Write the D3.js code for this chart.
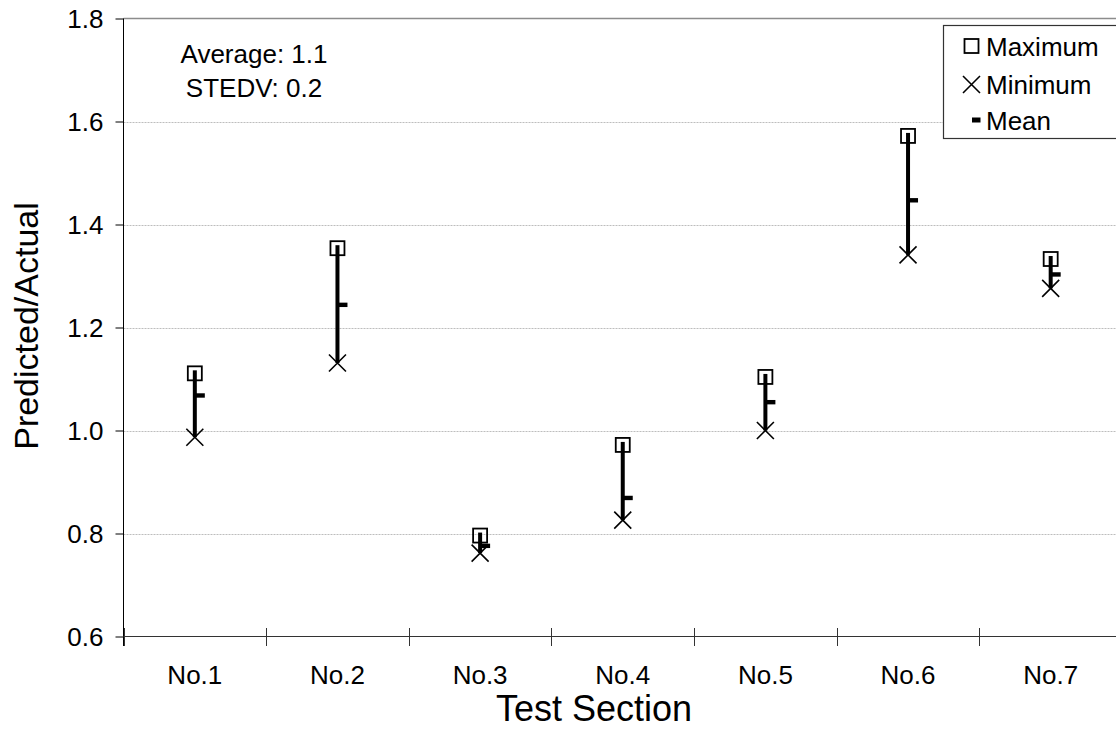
<!DOCTYPE html>
<html>
<head>
<meta charset="utf-8">
<script src="https://cdn.jsdelivr.net/npm/d3@7"></script>
<style>
  html, body { margin: 0; padding: 0; background: #fff; }
  svg { display: block; font-family: "Liberation Sans", Arial, sans-serif; }
</style>
</head>
<body>
<svg id="chart" width="1116" height="744"></svg>
<script>
const categories = ["No.1", "No.2", "No.3", "No.4", "No.5", "No.6", "No.7"];
const maxValues  = [1.111, 1.354, 0.796, 0.972, 1.104, 1.572, 1.333];
const minValues  = [0.987, 1.131, 0.762, 0.826, 1.000, 1.341, 1.276];
const meanValues = [1.068, 1.244, 0.776, 0.869, 1.055, 1.447, 1.303];
const yTicks = [0.6, 0.8, 1.0, 1.2, 1.4, 1.6, 1.8];
const legendLabels = ["Maximum", "Minimum", "Mean"];
const annotation = ["Average: 1.1", "STEDV: 0.2"];
const xTitle = "Test Section";
const yTitle = "Predicted/Actual";

(function () {
const data = categories.map((c, i) => ({ c, max: maxValues[i], min: minValues[i], mean: meanValues[i] }));

const svg = d3.select("#chart");
const pLeft = 123.5, pRight = 1122, pTop = 18.5, pBottom = 636.5;

const x = d3.scaleBand().domain(categories).range([pLeft, pRight]).padding(0);
const y = d3.scaleLinear().domain([0.6, 1.8]).range([pBottom, pTop]);
const cx = d => x(d.c) + x.bandwidth() / 2;

// gridlines
svg.append("g").selectAll("line").data(yTicks.filter(t => t > 0.6 && t < 1.8)).join("line")
  .attr("x1", pLeft).attr("x2", pRight)
  .attr("y1", d => Math.round(y(d)) + 0.5).attr("y2", d => Math.round(y(d)) + 0.5)
  .attr("stroke", "#bdbdbd").attr("stroke-width", 1).attr("stroke-dasharray", "2,1");
svg.append("line").attr("x1", pLeft).attr("x2", pRight)
  .attr("y1", pTop).attr("y2", pTop).attr("stroke", "#8c8c8c").attr("stroke-width", 1.3);

// y axis
const yAxis = d3.axisLeft(y).tickValues(yTicks).tickFormat(d3.format(".1f")).tickSize(8).tickPadding(12);
const gy = svg.append("g").attr("transform", `translate(${pLeft},0)`).call(yAxis);
gy.select(".domain").remove();
gy.selectAll(".tick line").attr("stroke", "#000");
gy.selectAll(".tick text").attr("font-size", 26).attr("fill", "#000")
  .attr("font-family", "'Liberation Sans', Arial, sans-serif").attr("dy", "0.36em");
svg.append("line").attr("x1", pLeft).attr("x2", pLeft).attr("y1", pTop).attr("y2", 646).attr("stroke", "#000");

// x axis
svg.append("line").attr("x1", pLeft).attr("x2", pRight).attr("y1", pBottom).attr("y2", pBottom).attr("stroke", "#333").attr("stroke-width", 1.2);
const xb = categories.map(c => x(c)).concat([pRight]);
svg.append("g").selectAll("line").data(xb).join("line")
  .attr("x1", d => Math.round(d) + 0.5).attr("x2", d => Math.round(d) + 0.5)
  .attr("y1", 628).attr("y2", 646).attr("stroke", "#333");
svg.append("g").selectAll("text").data(categories).join("text")
  .attr("x", d => x(d) + x.bandwidth() / 2).attr("y", 684)
  .attr("text-anchor", "middle").attr("font-size", 26).attr("fill", "#000").text(d => d);

// titles
svg.append("text").attr("transform", `translate(38,326) rotate(-90)`)
  .attr("text-anchor", "middle").attr("font-size", 34).attr("fill", "#000").text(yTitle);
svg.append("text").attr("x", 594).attr("y", 721)
  .attr("text-anchor", "middle").attr("font-size", 36).attr("fill", "#000").text(xTitle);

// annotation
svg.append("g").selectAll("text").data(annotation).join("text")
  .attr("x", 254).attr("y", (d, i) => 63 + i * 34)
  .attr("text-anchor", "middle").attr("font-size", 26).attr("fill", "#000").text(d => d);

// high-low lines
const marks = svg.append("g");
marks.selectAll("line.hl").data(data).join("line").attr("class", "hl")
  .attr("x1", cx).attr("x2", cx)
  .attr("y1", d => y(d.max) - 3).attr("y2", d => y(d.min))
  .attr("stroke", "#000").attr("stroke-width", 4);
// max squares
marks.selectAll("rect.mx").data(data).join("rect").attr("class", "mx")
  .attr("x", d => cx(d) - 7).attr("y", d => y(d.max) - 7)
  .attr("width", 14).attr("height", 14)
  .attr("fill", "none").attr("stroke", "#000").attr("stroke-width", 1.8);
// min X
const xs = 8.5;
marks.selectAll("path.mn").data(data).join("path").attr("class", "mn")
  .attr("d", d => { const px = cx(d), py = y(d.min);
    return `M${px - xs},${py - xs}L${px + xs},${py + xs}M${px - xs},${py + xs}L${px + xs},${py - xs}`; })
  .attr("stroke", "#000").attr("stroke-width", 1.6).attr("fill", "none");
// mean dash
marks.selectAll("rect.me").data(data).join("rect").attr("class", "me")
  .attr("x", d => cx(d)).attr("y", d => y(d.mean) - 2.2)
  .attr("width", 10).attr("height", 4.4).attr("fill", "#000");

// legend
const lg = svg.append("g");
lg.append("rect").attr("x", 943.5).attr("y", 25.5).attr("width", 200).attr("height", 113)
  .attr("fill", "#fff").attr("stroke", "#333").attr("stroke-width", 1.2);
const rowsY = [46, 84.5, 120];
lg.selectAll("text").data(legendLabels).join("text")
  .attr("x", 986).attr("y", (d, i) => rowsY[i] + 9.5)
  .attr("font-size", 26).attr("fill", "#000").text(d => d);
lg.append("rect").attr("x", 964.5).attr("y", rowsY[0] - 7).attr("width", 14).attr("height", 14)
  .attr("fill", "none").attr("stroke", "#000").attr("stroke-width", 1.8);
lg.append("path").attr("d", `M${971.5 - xs},${rowsY[1] - xs}L${971.5 + xs},${rowsY[1] + xs}M${971.5 - xs},${rowsY[1] + xs}L${971.5 + xs},${rowsY[1] - xs}`)
  .attr("stroke", "#000").attr("stroke-width", 1.6);
lg.append("rect").attr("x", 972).attr("y", rowsY[2] - 2.5).attr("width", 8.5).attr("height", 5).attr("fill", "#000");
})();
</script>
</body>
</html>
